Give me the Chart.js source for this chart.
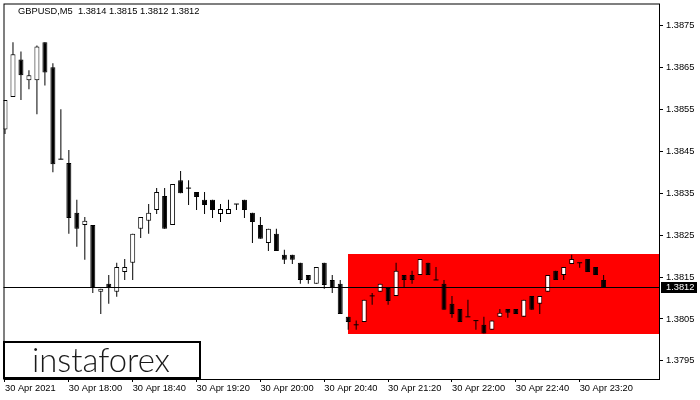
<!DOCTYPE html>
<html><head><meta charset="utf-8">
<script src="https://cdn.jsdelivr.net/npm/chart.js@4.4.0/dist/chart.umd.min.js"></script>
<style>html,body{margin:0;padding:0;background:#fff;overflow:hidden}canvas{display:block}</style>
</head><body>
<canvas id="c" width="700" height="400"></canvas>
<script>
const symbolTitle = 'GBPUSD,M5  1.3814 1.3815 1.3812 1.3812';
const opens = [1.38502,1.38579,1.38669,1.38619,1.38619,1.38710,1.38650,1.38431,1.38422,1.38303,
1.38274,1.38274,1.38115,1.38134,1.38115,1.38162,1.38184,1.38265,1.38284,1.38310,
1.38343,1.38274,1.38381,1.38362,1.38353,1.38334,1.38334,1.38300,1.38300,1.38324,
1.38334,1.38303,1.38274,1.38231,1.38253,1.38203,1.38203,1.38184,1.38155,1.38134,
1.38184,1.38143,1.38134,1.38055,1.38036,1.38043,1.38105,1.38115,1.38124,1.38105,
1.38155,1.38155,1.38155,1.38184,1.38143,1.38134,1.38086,1.38074,1.38055,1.38046,
1.38036,1.38024,1.38055,1.38074,1.38074,1.38055,1.38105,1.38086,1.38115,1.38165,
1.38155,1.38181,1.38184,1.38193,1.38174,1.38143];
const highs = [1.38572,1.38710,1.38688,1.38643,1.38702,1.38710,1.38660,1.38550,1.38453,1.38334,
1.38293,1.38274,1.38122,1.38155,1.38184,1.38193,1.38253,1.38293,1.38324,1.38362,
1.38362,1.38372,1.38403,1.38381,1.38353,1.38353,1.38334,1.38324,1.38334,1.38324,
1.38334,1.38303,1.38293,1.38265,1.38265,1.38215,1.38203,1.38184,1.38155,1.38174,
1.38184,1.38155,1.38143,1.38055,1.38046,1.38096,1.38112,1.38134,1.38124,1.38184,
1.38155,1.38165,1.38193,1.38184,1.38174,1.38143,1.38105,1.38074,1.38096,1.38046,
1.38055,1.38046,1.38074,1.38074,1.38074,1.38096,1.38105,1.38105,1.38155,1.38165,
1.38174,1.38203,1.38184,1.38193,1.38174,1.38155];
const lows = [1.38491,1.38579,1.38572,1.38598,1.38538,1.38607,1.38400,1.38431,1.38253,1.38222,
1.38191,1.38112,1.38062,1.38086,1.38103,1.38143,1.38143,1.38243,1.38253,1.38300,
1.38265,1.38274,1.38350,1.38322,1.38310,1.38300,1.38291,1.38281,1.38300,1.38310,
1.38291,1.38231,1.38241,1.38212,1.38212,1.38181,1.38181,1.38134,1.38134,1.38134,
1.38122,1.38112,1.38062,1.38024,1.38024,1.38043,1.38084,1.38115,1.38084,1.38105,
1.38124,1.38134,1.38155,1.38155,1.38143,1.38072,1.38053,1.38043,1.38055,1.38024,
1.38015,1.38024,1.38055,1.38053,1.38062,1.38055,1.38072,1.38062,1.38115,1.38143,
1.38143,1.38181,1.38172,1.38162,1.38155,1.38124];
const closes = [1.38572,1.38681,1.38631,1.38631,1.38700,1.38638,1.38419,1.38431,1.38291,1.38265,
1.38284,1.38124,1.38122,1.38124,1.38174,1.38174,1.38253,1.38293,1.38303,1.38353,
1.38265,1.38372,1.38350,1.38362,1.38341,1.38322,1.38310,1.38312,1.38312,1.38324,
1.38310,1.38281,1.38241,1.38265,1.38212,1.38191,1.38191,1.38143,1.38143,1.38174,
1.38131,1.38124,1.38062,1.38043,1.38036,1.38096,1.38105,1.38134,1.38093,1.38165,
1.38143,1.38143,1.38193,1.38155,1.38143,1.38072,1.38062,1.38043,1.38055,1.38046,
1.38015,1.38046,1.38065,1.38065,1.38062,1.38096,1.38072,1.38105,1.38155,1.38143,
1.38174,1.38193,1.38184,1.38162,1.38155,1.38124];
const tickIndex = [0,8,16,24,32,40,48,56,64,72];
const tickLabels = ['30 Apr 2021','30 Apr 18:00','30 Apr 18:40','30 Apr 19:20','30 Apr 20:00','30 Apr 20:40','30 Apr 21:20','30 Apr 22:00','30 Apr 22:40','30 Apr 23:20'];
const priceTicks = [1.3795,1.3805,1.3815,1.3825,1.3835,1.3845,1.3855,1.3865,1.3875];
const zoneStart = 43;
const zoneHigh = 1.38204;
const zoneLow = 1.38015;
const logoText = 'instaforex';

const FONT = '"Liberation Sans", Arial, sans-serif';
const bodies = [], wicks = [], dojis = [], bodyColors = [];
opens.forEach((o, i) => {
  const c = closes[i];
  wicks.push({x: i, y: [lows[i], highs[i]]});
  if (o === c) { dojis.push({x: i, y: o}); }
  else { bodies.push({x: i, y: [o, c]}); bodyColors.push(c > o ? '#ffffff' : '#000000'); }
});
const lastClose = closes[closes.length - 1];

const decor = {
  id: 'decor',
  beforeDatasetsDraw(chart) {
    const {ctx, chartArea: ca, scales: {x, y}} = chart;
    ctx.save();
    const x0 = Math.floor(x.getPixelForValue(zoneStart));
    const y0 = Math.round(y.getPixelForValue(zoneHigh));
    const y1 = Math.round(y.getPixelForValue(zoneLow));
    ctx.fillStyle = '#ff0000';
    ctx.fillRect(x0, y0, ca.right - x0, y1 - y0);
    ctx.restore();
  },
  afterDatasetsDraw(chart) {
    const {ctx, chartArea: ca, scales: {y}} = chart;
    ctx.save();
    ctx.strokeStyle = '#000'; ctx.lineWidth = 1;
    const yl = Math.floor(y.getPixelForValue(lastClose)) + 0.5;
    ctx.beginPath(); ctx.moveTo(ca.left, yl); ctx.lineTo(ca.right, yl); ctx.stroke();
    ctx.strokeRect(ca.left + 0.5, ca.top + 0.5, ca.right - ca.left, ca.bottom - ca.top);
    ctx.restore();
  },
  afterDraw(chart) {
    const {ctx, chartArea: ca, scales: {y}} = chart;
    ctx.save();
    // bid label
    const yl = Math.floor(y.getPixelForValue(lastClose));
    ctx.fillStyle = '#000';
    ctx.fillRect(ca.right + 2, yl - 5, 36, 11);
    ctx.fillStyle = '#fff';
    ctx.font = '9.3px ' + FONT;
    ctx.textBaseline = 'middle';
    ctx.textAlign = 'left';
    ctx.fillText(lastClose.toFixed(4), ca.right + 7, yl + 0.5);
    // title
    ctx.fillStyle = '#000';
    ctx.fillText(symbolTitle, 18, 11);
    // logo
    ctx.fillStyle = '#fff';
    ctx.fillRect(4, 342, 196, 36);
    ctx.strokeStyle = '#000'; ctx.lineWidth = 2;
    ctx.strokeRect(4, 342, 196, 36);
    ctx.font = '300 34px Lato, ' + FONT;
    ctx.textBaseline = 'alphabetic';
    const w = ctx.measureText(logoText).width;
    ctx.translate(32, 372);
    ctx.scale(138 / w, 1);
    ctx.fillStyle = '#1a1a1a';
    ctx.fillText(logoText, 0, 0);
    ctx.restore();
  }
};

new Chart(document.getElementById('c'), {
  type: 'bar',
  data: {
    datasets: [
      {type: 'bar', data: bodies, backgroundColor: bodyColors, borderColor: '#000', borderWidth: 1,
       borderSkipped: false, barThickness: 5, grouped: false, inflateAmount: 0, order: 0},
      {type: 'scatter', data: dojis, pointStyle: 'line', pointRadius: 2.5, pointHoverRadius: 2.5,
       borderColor: '#000', borderWidth: 1, order: 1},
      {type: 'bar', data: wicks, backgroundColor: '#000', borderWidth: 0, barThickness: 1,
       grouped: false, inflateAmount: 0, order: 2}
    ]
  },
  options: {
    responsive: false,
    animation: false,
    devicePixelRatio: 1,
    layout: {padding: {left: 2, top: 2, right: 0, bottom: 0}},
    plugins: {legend: {display: false}, tooltip: {enabled: false}},
    events: [],
    scales: {
      x: {
        type: 'linear', offset: false, min: -0.1875, max: 81.9375,
        grid: {display: true, drawOnChartArea: false, drawTicks: true, tickLength: 3, tickColor: '#000', offset: false},
        border: {display: false},
        afterBuildTicks: s => { s.ticks = tickIndex.map(v => ({value: v})); },
        afterFit: s => { s.height = 21; s.paddingLeft = 0; s.paddingRight = 0; },
        ticks: {autoSkip: false, maxRotation: 0, minRotation: 0, align: 'start', padding: 1,
          color: '#000', font: {family: FONT, size: 9.3},
          callback: (v, idx) => tickLabels[idx]}
      },
      y: {
        type: 'linear', position: 'right', min: 1.3790677, max: 1.3880226,
        grid: {display: true, drawOnChartArea: false, drawTicks: true, tickLength: 4, tickColor: '#000'},
        border: {display: false},
        afterBuildTicks: s => { s.ticks = priceTicks.map(v => ({value: v})); },
        afterFit: s => { s.width = 41; s.paddingTop = 0; s.paddingBottom = 0; },
        ticks: {padding: 3, color: '#000', font: {family: FONT, size: 9.3},
          callback: v => Number(v).toFixed(4)}
      }
    }
  },
  plugins: [decor]
});
</script>
</body></html>
